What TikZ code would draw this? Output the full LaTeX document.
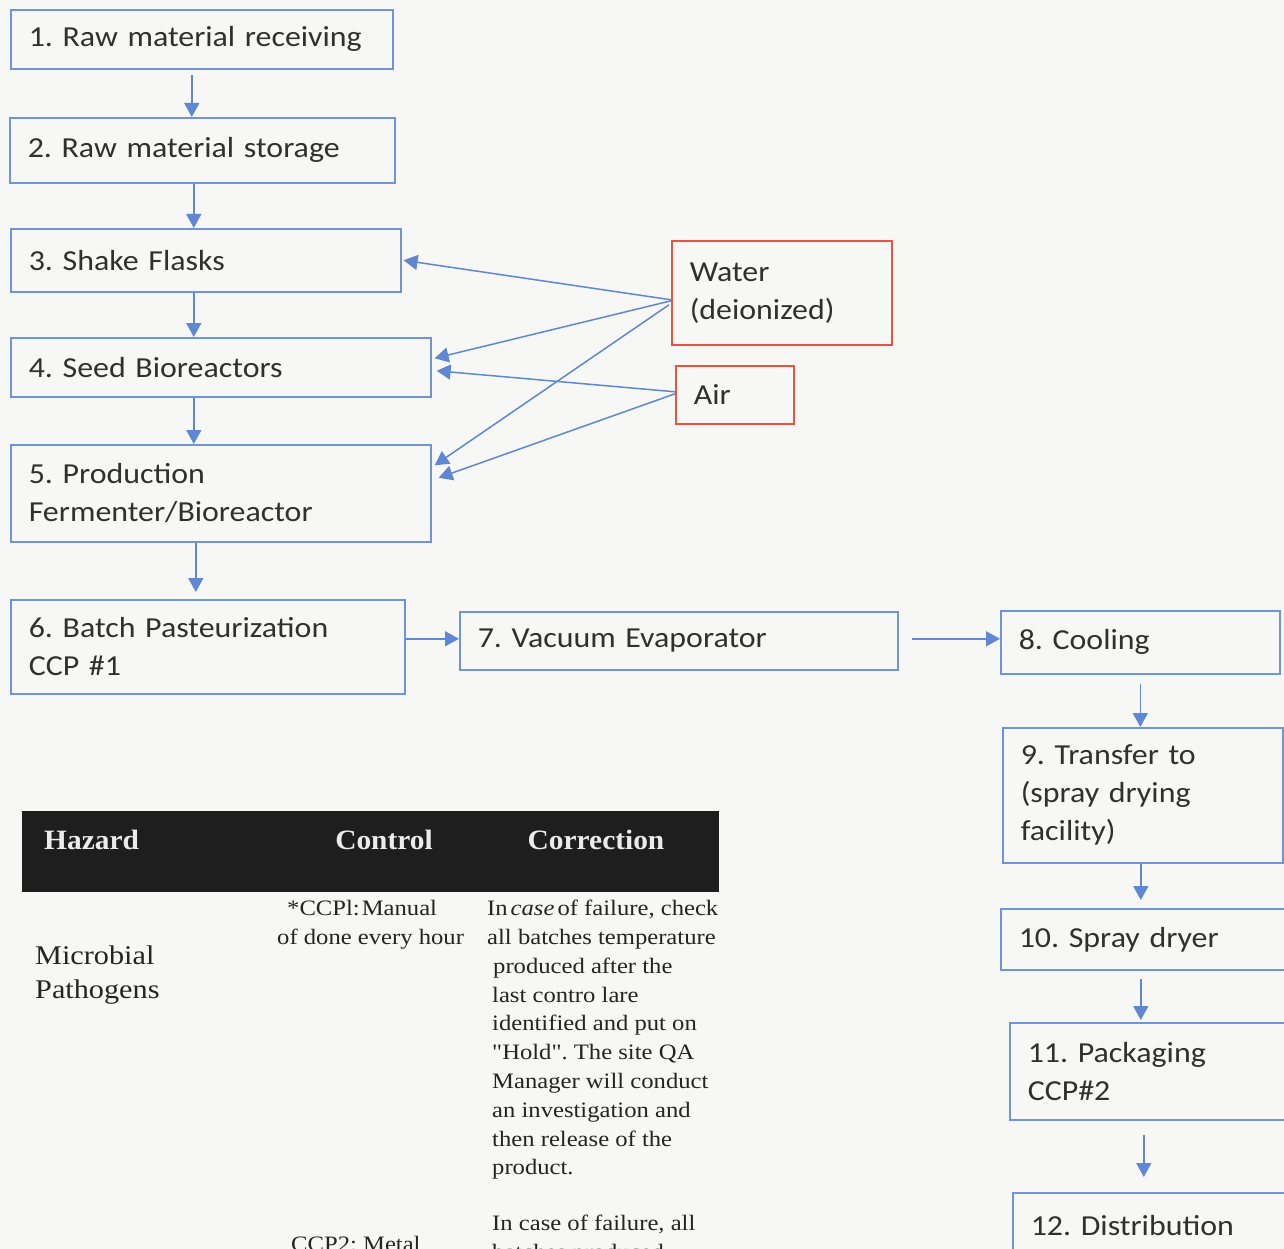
\documentclass[tikz,border=0pt]{standalone}
\usepackage{fontspec}
\usetikzlibrary{arrows.meta,calc}
\newfontfamily\boxfont[FakeStretch=1.1]{Carlito}
\newfontfamily\tabfont[FakeStretch=1.12]{Liberation Serif}
\newfontfamily\hdrfont[FakeStretch=1.05]{Liberation Serif}
\definecolor{bg}{RGB}{247,247,245}
\definecolor{boxblue}{RGB}{112,148,218}
\definecolor{arrblue}{RGB}{95,135,212}
\definecolor{boxred}{RGB}{238,82,62}
\definecolor{txt}{RGB}{48,48,48}
\definecolor{bodytxt}{RGB}{36,36,36}
\definecolor{hdr}{RGB}{30,30,30}
\frenchspacing
\begin{document}
\begin{tikzpicture}[x=1pt,y=-1pt,
  flow/.style={draw=boxblue, line width=1.6pt, fill=bg, anchor=north west, align=left,
    inner xsep=18pt, inner ysep=0pt, font=\boxfont\fontsize{29}{38}\selectfont\frenchspacing, text=txt},
  src/.style={flow, draw=boxred},
  arr/.style={draw=arrblue, line width=1.5pt, -{Triangle[length=14pt,width=15pt]}},
  hdrtxt/.style={font=\hdrfont\bfseries\fontsize{28}{32}\selectfont, text=white!92!black, inner sep=0pt},
  hazbody/.style={font=\tabfont\fontsize{27}{34}\selectfont, text=bodytxt, inner sep=0pt, anchor=north west, align=left},
  tabbody/.style={font=\tabfont\fontsize{22}{28.8}\selectfont\frenchspacing, text=bodytxt, inner sep=0pt, anchor=north west, align=left}]
\useasboundingbox (0,0) rectangle (1284,1249);
\clip (0,0) rectangle (1284,1249);
\fill[bg] (0,0) rectangle (1284,1249);

% process boxes
\node[flow, text width=346pt, minimum height=59pt] (n1) at (10,9) {1. Raw material receiving};
\node[flow, text width=349pt, minimum height=65pt] (n2) at (9,117) {2. Raw material storage};
\node[flow, text width=354pt, minimum height=63pt] (n3) at (10,228) {3. Shake Flasks};
\node[flow, text width=384pt, minimum height=59pt] (n4) at (10,337) {4. Seed Bioreactors};
\node[flow, text width=384pt, minimum height=97pt] (n5) at (10,444) {5. Production\\Fermenter/Bioreactor};
\node[flow, text width=358pt, minimum height=94pt] (n6) at (10,599) {6. Batch Pasteurization\\CCP \#1};
\node[flow, text width=402pt, minimum height=58pt] (n7) at (459,611) {7. Vacuum Evaporator};
\node[flow, text width=243pt, minimum height=63pt] (n8) at (1000,610) {8. Cooling};
\node[flow, text width=244pt, minimum height=135pt] (n9) at (1002,727) {9. Transfer to\\(spray drying\\facility)};
\node[flow, text width=254pt, minimum height=61pt] (n10) at (1000,908) {10. Spray dryer};
\node[flow, text width=245pt, minimum height=97pt] (n11) at (1009,1022) {11. Packaging\\CCP\#2};
\node[flow, text width=242pt, minimum height=70pt] (n12) at (1012,1192) {12. Distribution\vphantom{p}};

% inputs
\node[src, text width=184pt, minimum height=104pt] (water) at (671,240) {Water\\(deionized)};
\node[src, text width=82pt, minimum height=58pt] (air) at (675,365) {Air};

% main flow arrows
\draw[arr] ([xshift=-10pt,yshift=-5pt]n1.south) -- ([xshift=-10pt]n1.south |- n2.north);
\draw[arr] ([xshift=-8.5pt]n2.south) -- ([xshift=-8.5pt]n2.south |- n3.north);
\draw[arr] ([xshift=-12pt]n3.south) -- ([xshift=-12pt]n3.south |- n4.north);
\draw[arr] ([xshift=-27pt]n4.south) -- ([xshift=-27pt]n4.south |- n5.north);
\draw[arr] ([xshift=-25pt]n5.south) -- ([xshift=-25pt,yshift=7pt]n5.south |- n6.north);
\draw[arr] ([yshift=2pt]n6.east |- n7.west) -- ([yshift=2pt]n7.west);
\draw[arr] ([xshift=13pt,yshift=2pt]n7.east) -- ([yshift=2pt]n7.east -| n8.west);
\draw[arr] ([yshift=-9pt]n8.south) -- (n8.south |- n9.north);
\draw[arr] ([xshift=-2pt]n9.south) -- ([xshift=-2pt,yshift=8pt]n9.south |- n10.north);
\draw[arr] ([xshift=-5pt,yshift=-8pt]n10.south) -- ([xshift=-5pt,yshift=2pt]n10.south |- n11.north);
\draw[arr] ([xshift=-6.5pt,yshift=-14pt]n11.south) -- ([xshift=-6.5pt,yshift=15pt]n11.south |- n12.north);

% feed arrows
\draw[arr] ([yshift=-7pt]water.west) -- ([xshift=2pt]n3.east);
\draw[arr] ([yshift=-8pt]water.west) -- ([xshift=3pt,yshift=9pt]n4.east);
\draw[arr] ([xshift=-2pt,yshift=-12pt]water.west) -- ([xshift=3pt,yshift=28pt]n5.east);
\draw[arr] ([yshift=3pt]air.west) -- ([xshift=5pt,yshift=-3.5pt]n4.east);
\draw[arr] ([yshift=1pt]air.west) -- ([xshift=7pt,yshift=15.5pt]n5.east);

% table
\node[fill=hdr, anchor=north west, minimum width=697pt, minimum height=81pt, inner sep=0pt] (hdrbar) at (22,811) {};
\node[hdrtxt, anchor=base west] (hz) at (44,849) {Hazard};
\node[hdrtxt, anchor=base] (ct) at (384,849) {Control};
\node[hdrtxt, anchor=base] (cr) at (596,849) {Correction};

\node[hazbody] (haz) at (35,946) {Microbial\\Pathogens};
\node[tabbody] (ctl1) at (277,900) {\hspace*{10pt}*CCPl:\kern2pt Manual\\of done every hour};
\node[tabbody] (cor1) at (487,900) {In\kern3pt\textit{case}\kern3pt of failure, check\\
all batches temperature\\
\hspace*{6pt}produced after the\\
\hspace*{5pt}last contro lare\\
\hspace*{5pt}identified and put on\\
\hspace*{5pt}"Hold". The site QA\\
\hspace*{5pt}Manager will conduct\\
\hspace*{5pt}an investigation and\\
\hspace*{5pt}then release of the\\
\hspace*{5pt}product.};
\node[tabbody] (cor2) at (492,1215) {In case of failure, all\\batches produced};
\node[tabbody] (ctl2) at (291,1236) {CCP2: Metal};
\end{tikzpicture}
\end{document}
